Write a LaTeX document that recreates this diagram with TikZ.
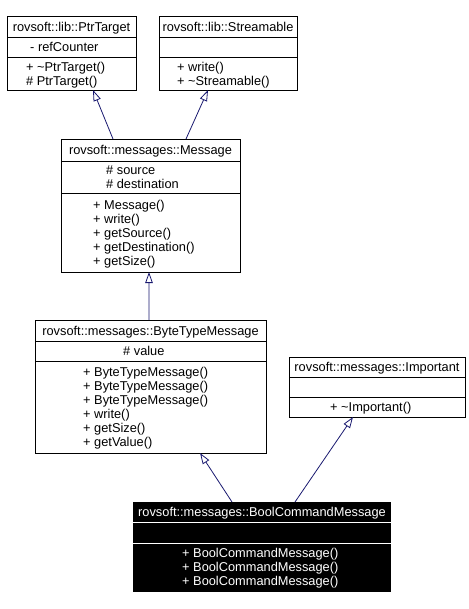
\documentclass[tikz,border=0pt]{standalone}
\usepackage{fontspec}
\setmainfont{Liberation Sans}
\usetikzlibrary{arrows.meta}
\definecolor{edgeblue}{HTML}{191970}
\tikzset{
  box/.style={draw=black, line width=0.8bp, fill=white, anchor=north west, inner sep=0pt, outer sep=0pt},
  darkbox/.style={fill=black, anchor=north west, inner sep=0pt, outer sep=0pt},
  sepline/.style={line width=0.8bp, draw=black},
  wsepline/.style={line width=0.8bp, draw=white},
  lbl/.style={anchor=base, inner sep=0pt, font=\fontsize{12.8bp}{14bp}\selectfont},
  mem/.style={anchor=base west, inner sep=0pt, font=\fontsize{12.8bp}{14bp}\selectfont},
  inh/.style={draw=edgeblue, line width=0.8bp, -{Triangle[open, length=11bp, width=7.5bp]}},
}
\begin{document}
\begin{tikzpicture}[x=1bp, y=-1bp]
\useasboundingbox[fill=white] (0,0) rectangle (469,609);

% PtrTarget
\node[box, minimum width=129bp, minimum height=74bp] (ptr) at (7,16) {};
\draw[sepline] (7,37) -- (136,37);
\draw[sepline] (7,57) -- (136,57);
\node[lbl] (ptrT) at (71.5,31.5) {rovsoft::lib::PtrTarget};
\node[mem] (ptrA1) at (30,52) {- refCounter};
\node[mem] (ptrM1) at (26,71.5) {+ \textasciitilde PtrTarget()};
\node[mem] (ptrM2) at (26,85.5) {\# PtrTarget()};

% Streamable
\node[box, minimum width=138bp, minimum height=74bp] (str) at (159,16) {};
\draw[sepline] (159,37) -- (297,37);
\draw[sepline] (159,57) -- (297,57);
\node[lbl] (strT) at (228,31.5) {rovsoft::lib::Streamable};
\node[mem] (strM1) at (177,71.5) {+ write()};
\node[mem] (strM2) at (177,85.5) {+ \textasciitilde Streamable()};

% Message
\node[box, minimum width=179bp, minimum height=133bp] (msg) at (61,139) {};
\draw[sepline] (61,161) -- (240,161);
\draw[sepline] (61,193) -- (240,193);
\node[lbl] (msgT) at (150.5,155) {rovsoft::messages::Message};
\node[mem] (msgA1) at (106,174.5) {\# source};
\node[mem] (msgA2) at (106,188.5) {\# destination};
\node[mem] (msgM1) at (93,209) {+ Message()};
\node[mem] (msgM2) at (93,223) {+ write()};
\node[mem] (msgM3) at (93,237) {+ getSource()};
\node[mem] (msgM4) at (93,251) {+ getDestination()};
\node[mem] (msgM5) at (93,265) {+ getSize()};

% ByteTypeMessage
\node[box, minimum width=231bp, minimum height=133bp] (btm) at (35,320) {};
\draw[sepline] (35,341) -- (266,341);
\draw[sepline] (35,361) -- (266,361);
\node[lbl] (btmT) at (150.5,335.5) {rovsoft::messages::ByteTypeMessage};
\node[mem] (btmA1) at (123,355.5) {\# value};
\node[mem] (btmM1) at (83,376.5) {+ ByteTypeMessage()};
\node[mem] (btmM2) at (83,390.5) {+ ByteTypeMessage()};
\node[mem] (btmM3) at (83,404.5) {+ ByteTypeMessage()};
\node[mem] (btmM4) at (83,418.5) {+ write()};
\node[mem] (btmM5) at (83,432.5) {+ getSize()};
\node[mem] (btmM6) at (83,446.5) {+ getValue()};

% Important
\node[box, minimum width=176bp, minimum height=60bp] (imp) at (289,357) {};
\draw[sepline] (289,377) -- (465,377);
\draw[sepline] (289,397) -- (465,397);
\node[lbl] (impT) at (377,371.5) {rovsoft::messages::Important};
\node[mem] (impM1) at (330,411.5) {+ \textasciitilde Important()};

% BoolCommandMessage
\node[darkbox, minimum width=258bp, minimum height=90bp] (bcm) at (133,502) {};
\draw[wsepline] (133,522) -- (391,522);
\draw[wsepline] (133,543) -- (391,543);
\node[lbl, text=white] (bcmT) at (262,516.5) {rovsoft::messages::BoolCommandMessage};
\node[mem, text=white] (bcmM1) at (182,557.5) {+ BoolCommandMessage()};
\node[mem, text=white] (bcmM2) at (182,571.5) {+ BoolCommandMessage()};
\node[mem, text=white] (bcmM3) at (182,585.5) {+ BoolCommandMessage()};

% inheritance
\draw[inh] ([xshift=-37.5bp]msg.north) -- ([xshift=21.5bp]ptr.south);
\draw[inh] ([xshift=35.5bp]msg.north) -- ([xshift=-20bp]str.south);
\draw[inh] ([xshift=-1.5bp]btm.north) -- ([xshift=-1.5bp]msg.south);
\draw[inh] ([xshift=-30bp]bcm.north) -- ([xshift=49.5bp]btm.south);
\draw[inh] ([xshift=33bp]bcm.north) -- ([xshift=-24bp]imp.south);
\end{tikzpicture}
\end{document}
